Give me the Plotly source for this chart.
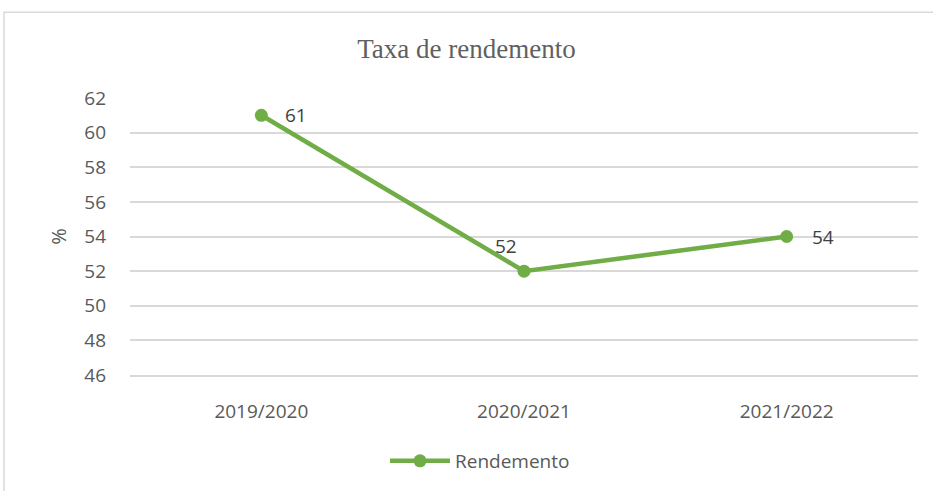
import plotly.graph_objects as go

# Dados
anos = ["2019/2020", "2020/2021", "2021/2022"]
rendemento = [61, 52, 54]
# deslocamento dos rótulos de dados (px)
rotulo_dx = [22, -18, 23]
rotulo_dy = [0, 25, 0]
rotulo_anchor = ["left", "center", "left"]
ticks_y = [46, 48, 50, 52, 54, 56, 58, 60, 62]

VERDE = "#70AD47"
CINZA = "#595959"

fig = go.Figure()
fig.add_trace(go.Scatter(
    x=anos,
    y=rendemento,
    mode="lines+markers",
    name="Rendemento",
    line=dict(color=VERDE, width=4.5),
    marker=dict(color=VERDE, size=13),
    cliponaxis=False,
))

for ano, v, dx, dy, anc in zip(anos, rendemento, rotulo_dx, rotulo_dy, rotulo_anchor):
    fig.add_annotation(
        x=ano, y=v, text=str(v), showarrow=False,
        xanchor=anc, yanchor="middle", xshift=dx, yshift=dy,
        font=dict(family="Open Sans, sans-serif", size=19, color="#404040"),
    )

fig.update_layout(
    width=933,
    height=491,
    paper_bgcolor="white",
    plot_bgcolor="white",
    margin=dict(l=130, r=15, t=98, b=115),
    title=dict(
        text="Taxa de rendemento",
        x=0.5, xanchor="center",
        y=1 - 49 / 491, yanchor="middle",
        font=dict(family="Liberation Serif, serif", size=27, color="#606060"),
    ),
    font=dict(family="Open Sans, sans-serif", size=19, color=CINZA),
    showlegend=True,
    legend=dict(
        orientation="h",
        x=(480 - 130) / 788, xanchor="center",
        y=(376 - 461) / 278, yanchor="middle",
        font=dict(size=19, color=CINZA),
        itemwidth=60,
    ),
    xaxis=dict(
        type="category",
        range=[-0.5, 2.5],
        showgrid=False,
        showline=True,
        linecolor="#D9D9D9",
        linewidth=1.5,
        ticks="",
        ticklabelstandoff=18,
        tickfont=dict(size=19, color=CINZA),
    ),
    yaxis=dict(
        range=[46, 62],
        tickvals=ticks_y,
        showgrid=True,
        gridcolor="#D9D9D9",
        gridwidth=1.5,
        zeroline=False,
        ticks="",
        ticklabelstandoff=23,
        tickfont=dict(size=19, color=CINZA),
        title=dict(text="%", standoff=12, font=dict(size=20, color=CINZA)),
    ),
    shapes=[dict(
        type="rect", xref="paper", yref="paper",
        x0=(4 - 130) / 788, x1=(960 - 130) / 788,
        y0=(376 - 500) / 278, y1=(376 - 12) / 278,
        line=dict(color="#D9D9D9", width=1.5),
        fillcolor="rgba(0,0,0,0)",
        layer="below",
    )],
)

fig.write_html(
    "out.html",
    config={"displayModeBar": False},
    post_script="document.body.style.margin='0';",
)
